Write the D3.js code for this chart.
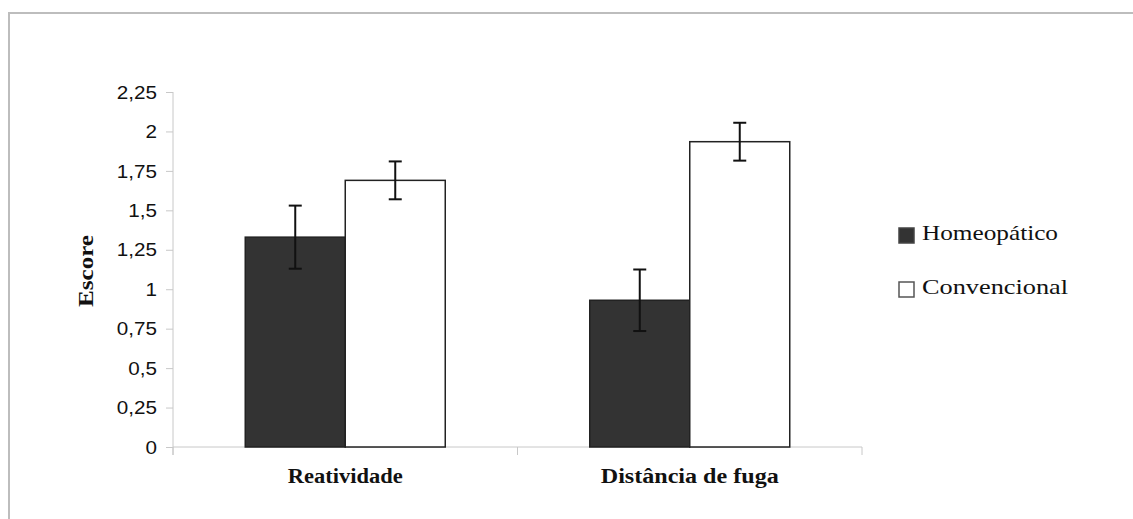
<!DOCTYPE html>
<html>
<head>
<meta charset="utf-8">
<script src="https://cdn.jsdelivr.net/npm/d3@7"></script>
<style>
html,body{margin:0;padding:0;background:#fff;}
svg{display:block;}
</style>
</head>
<body>
<svg id="chart" width="1133" height="519"></svg>
<script>
const categories = ["Reatividade", "Distância de fuga"];
const seriesNames = ["Homeopático", "Convencional"];
const homeopatico = [1.33, 0.93];
const homeopaticoErr = [0.20, 0.195];
const convencional = [1.69, 1.935];
const convencionalErr = [0.12, 0.12];
const yTicks = [0, 0.25, 0.5, 0.75, 1, 1.25, 1.5, 1.75, 2, 2.25];
const yTickLabels = ["0", "0,25", "0,5", "0,75", "1", "1,25", "1,5", "1,75", "2", "2,25"];
const yLabel = "Escore";

const svg = d3.select("#chart");
const colors = ["#333333", "#ffffff"];
const strokes = ["#222222", "#222222"];

// outer border
svg.append("rect").attr("x", 9).attr("y", 13).attr("width", 1140).attr("height", 520)
  .attr("fill", "none").attr("stroke", "#bdbdbd").attr("stroke-width", 2);

const x0 = 173, x1 = 862, yb = 447, yt = 92;
const x = d3.scaleBand().domain(categories).range([x0, x1]).paddingInner(0).paddingOuter(0);
const y = d3.scaleLinear().domain([0, 2.25]).range([yb, yt]);
const barW = 100;

// axes
const yAxis = d3.axisLeft(y).tickValues(yTicks).tickSize(7).tickFormat((d, i) => yTickLabels[i]);
const gy = svg.append("g").attr("transform", `translate(${x0},0)`).call(yAxis);
gy.select(".domain").attr("stroke", "#c8c8c8").attr("d", `M0,${yt}V${yb + 8}`);
gy.selectAll(".tick line").attr("stroke", "#c8c8c8");
gy.selectAll(".tick text").attr("x", -16).attr("dy", "0.35em")
  .style("font-family", "'Liberation Sans', Arial, sans-serif").style("font-size", "17.5px").attr("fill", "#111")
  .each(function () {
    const w = this.getComputedTextLength();
    d3.select(this).attr("textLength", w * 1.18).attr("lengthAdjust", "spacingAndGlyphs");
  });

const gx = svg.append("g").attr("transform", `translate(0,${yb})`);
gx.append("line").attr("x1", x0).attr("x2", x1).attr("y1", 0).attr("y2", 0).attr("stroke", "#c8c8c8");
const bounds = [x0].concat(categories.map(c => x(c) + x.bandwidth()));
gx.selectAll("line.b").data(bounds).enter().append("line").attr("class", "b")
  .attr("x1", d => d).attr("x2", d => d).attr("y1", 0).attr("y2", 8).attr("stroke", "#c8c8c8");

// bars
const series = [
  { name: seriesNames[0], vals: homeopatico, errs: homeopaticoErr },
  { name: seriesNames[1], vals: convencional, errs: convencionalErr }
];
series.forEach((s, si) => {
  const g = svg.append("g");
  categories.forEach((c, ci) => {
    const cx = x(c) + x.bandwidth() / 2;
    const bx = cx - barW + si * barW;
    g.append("rect").attr("x", bx).attr("y", y(s.vals[ci])).attr("width", barW)
      .attr("height", y(0) - y(s.vals[ci])).attr("fill", colors[si])
      .attr("stroke", strokes[si]).attr("stroke-width", 1.5);
  });
});
// error bars
series.forEach((s, si) => {
  categories.forEach((c, ci) => {
    const cx = x(c) + x.bandwidth() / 2 - barW / 2 + si * barW;
    const hi = y(s.vals[ci] + s.errs[ci]), lo = y(s.vals[ci] - s.errs[ci]);
    const g = svg.append("g").attr("stroke", "#111").attr("stroke-width", 2);
    g.append("line").attr("x1", cx).attr("x2", cx).attr("y1", hi).attr("y2", lo);
    g.append("line").attr("x1", cx - 6.5).attr("x2", cx + 6.5).attr("y1", hi).attr("y2", hi);
    g.append("line").attr("x1", cx - 6.5).attr("x2", cx + 6.5).attr("y1", lo).attr("y2", lo);
  });
});

// category labels
const catLens = [115, 178];
categories.forEach((c, i) => {
  svg.append("text").attr("x", x(c) + x.bandwidth() / 2).attr("y", 483)
    .attr("text-anchor", "middle")
    .attr("textLength", catLens[i]).attr("lengthAdjust", "spacingAndGlyphs")
    .style("font-family", "'Liberation Serif', 'Times New Roman', serif").style("font-weight", "bold")
    .style("font-size", "20px").attr("fill", "#111").text(c);
});

// y label
svg.append("text").attr("transform", "translate(93,271) rotate(-90)")
  .attr("text-anchor", "middle").attr("textLength", 72).attr("lengthAdjust", "spacingAndGlyphs")
  .style("font-family", "'Liberation Serif', 'Times New Roman', serif").style("font-weight", "bold")
  .style("font-size", "20px").attr("fill", "#111").text(yLabel);

// legend
const legLens = [136, 146];
const legY = [228, 282];
series.forEach((s, i) => {
  svg.append("rect").attr("x", 899).attr("y", legY[i]).attr("width", 15).attr("height", 15)
    .attr("fill", colors[i]).attr("stroke", i === 0 ? "#444" : "#555").attr("stroke-width", 1.5);
  svg.append("text").attr("x", 922).attr("y", legY[i] + 12)
    .attr("textLength", legLens[i]).attr("lengthAdjust", "spacingAndGlyphs")
    .style("font-family", "'Liberation Serif', 'Times New Roman', serif")
    .style("font-size", "21px").attr("fill", "#111").text(s.name);
});
</script>
</body>
</html>
